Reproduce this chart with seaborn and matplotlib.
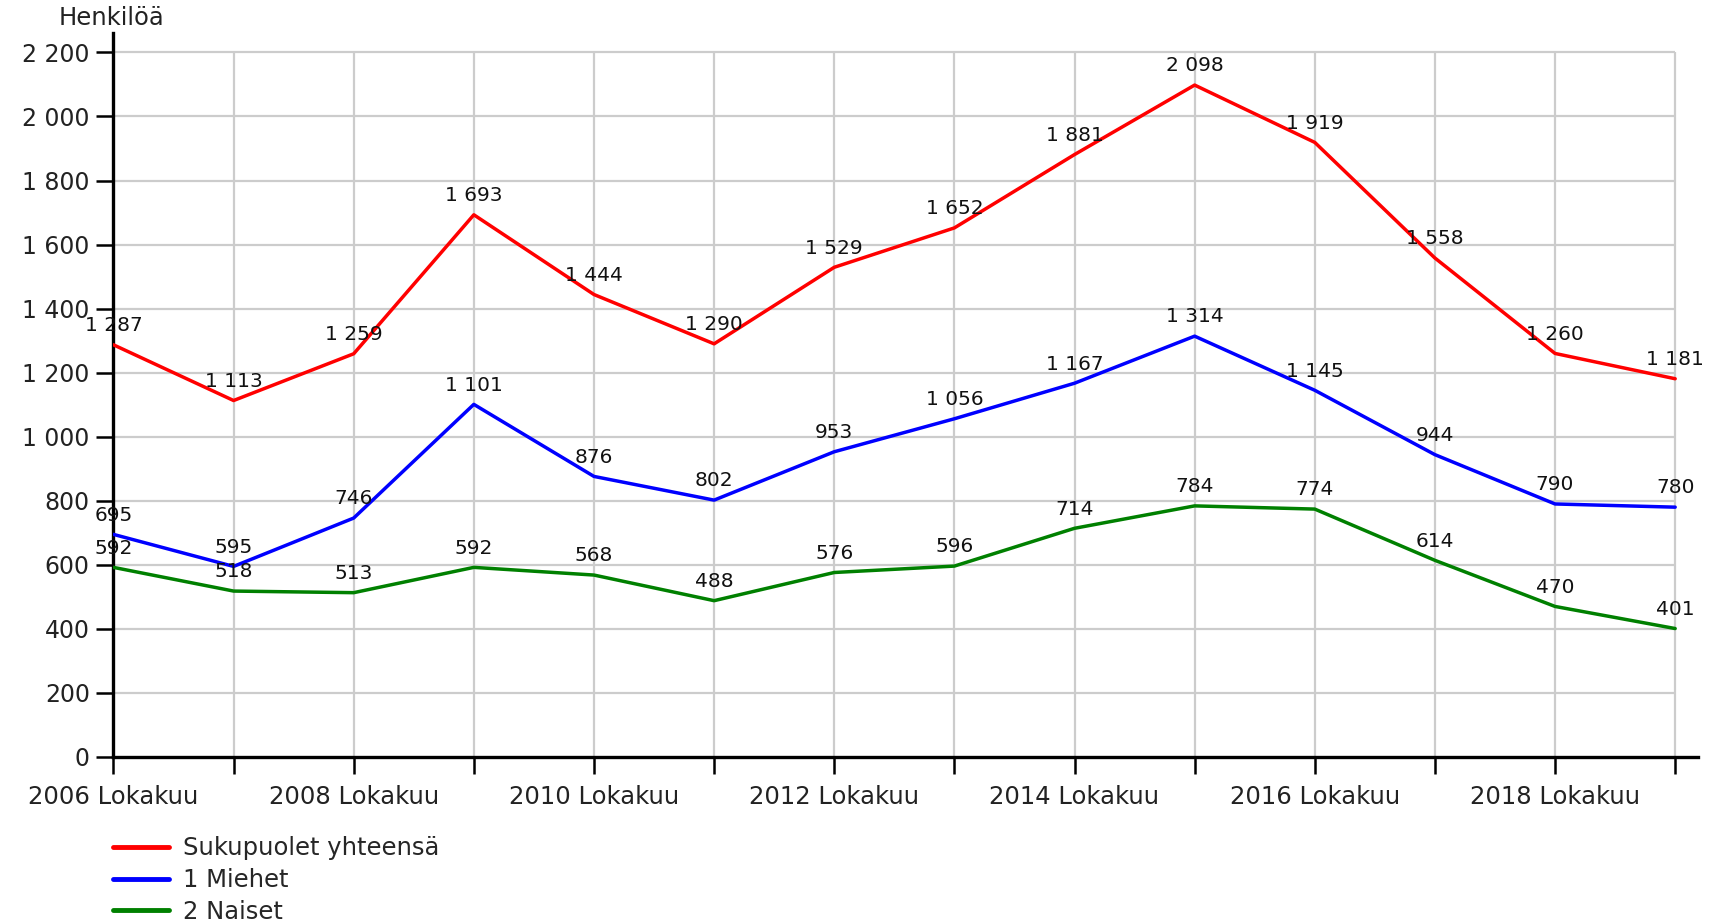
import pandas as pd
import numpy as np

import matplotlib
matplotlib.use("Agg")
import matplotlib.pyplot as plt
import seaborn as sns


# DATA
years = [2006, 2007, 2008, 2009, 2010, 2011, 2012,
         2013, 2014, 2015, 2016, 2017, 2018, 2019]

total = [1287, 1113, 1259, 1693, 1444, 1290, 1529,
         1652, 1881, 2098, 1919, 1558, 1260, 1181]

men = [695, 595, 746, 1101, 876, 802, 953,
       1056, 1167, 1314, 1145, 944, 790, 780]

women = [592, 518, 513, 592, 568, 488, 576,
         596, 714, 784, 774, 614, 470, 401]

series_names = ["Sukupuolet yhteensä", "1 Miehet", "2 Naiset"]
series_colors = ["#ff0000", "#0000ff", "#008000"]

y_ticks = [0, 200, 400, 600, 800, 1000, 1200,
           1400, 1600, 1800, 2000, 2200]


# LONG FORMAT
pos = list(range(len(years)))

df = pd.DataFrame({
    "pos": pos * 3,
    "value": total + men + women,
    "series": np.repeat(series_names, len(years))
})


def fmt(v):
    return f"{v:,}".replace(",", " ")


# STYLE
sns.set_style("white")
plt.rcParams['font.family'] = ['DejaVu Sans']

fig = plt.figure(figsize=(17.11, 9.22), dpi=100)
ax = fig.add_axes([0.0663, 0.179, 0.9261, 0.785])


# LINES
sns.lineplot(
    data=df,
    x="pos",
    y="value",
    hue="series",
    hue_order=series_names,
    palette=series_colors,
    linewidth=2.5,
    ax=ax,
    zorder=3
)


# GRID
ax.set_xlim(0, len(years) - 1 + 0.19)
ax.set_ylim(0, 2260)

ax.hlines(y_ticks[1:], 0, len(years) - 1,
          color="#cccccc", linewidth=1.6, zorder=1)
ax.vlines(pos[1:], 0, y_ticks[-1],
          color="#cccccc", linewidth=1.6, zorder=1)


# DATA LABELS
for vals in [total, men, women]:
    for x, v in zip(pos, vals):
        ax.annotate(
            fmt(v),
            (x, v),
            xytext=(0, 7),
            textcoords="offset points",
            ha="center",
            va="bottom",
            fontsize=14.5,
            color="#111111",
            zorder=4
        )


# AXES
ax.set_yticks(y_ticks)
ax.set_yticklabels([fmt(t) for t in y_ticks], fontsize=17, color="#222222")

ax.set_xticks(pos)
ax.set_xticklabels(
    [f"{y} Lokakuu" if y % 2 == 0 else "" for y in years],
    fontsize=17.5,
    color="#222222"
)

ax.tick_params(axis="both", direction="out", length=12,
               width=1.8, color="black", pad=5, left=True, bottom=True)
ax.tick_params(axis="x", pad=8)

ax.set_xlabel("")
ax.set_ylabel("")

for side in ["top", "right"]:
    ax.spines[side].set_visible(False)

for side in ["left", "bottom"]:
    ax.spines[side].set_color("black")
    ax.spines[side].set_linewidth(2.4)


# UNIT LABEL
fig.text(0.0345, 0.98, "Henkilöä", fontsize=17.5, va="center",
         ha="left", color="#222222")


# LEGEND
handles, labels = ax.get_legend_handles_labels()
for h in handles:
    h.set_linewidth(3.5)
ax.legend(
    handles,
    labels,
    loc="upper left",
    bbox_to_anchor=(0.066, 0.093),
    bbox_transform=fig.transFigure,
    frameon=False,
    fontsize=17.5,
    handlelength=2.3,
    handletextpad=0.58,
    labelspacing=0.32,
    borderaxespad=0,
    borderpad=0
)

fig.savefig("out.png", dpi=100)
